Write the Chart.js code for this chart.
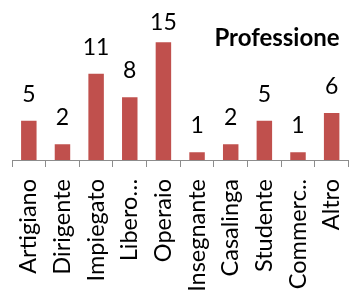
<!DOCTYPE html>
<html>
<head>
<meta charset="utf-8">
<script src="https://cdn.jsdelivr.net/npm/chart.js@4/dist/chart.umd.min.js"></script>
<style>
    html, body { margin: 0; padding: 0; background: #fff; overflow: hidden; }
    #wrap { width: 362px; height: 293px; overflow: hidden; }
</style>
</head>
<body>
<div id="wrap"><canvas id="professione" width="372" height="293"></canvas></div>
<script>
    "use strict";

    // Data
    var categories = ["Artigiano", "Dirigente", "Impiegato", "Libero…", "Operaio",
        "Insegnante", "Casalinga", "Studente", "Commerc..", "Altro"];
    var counts = [5, 2, 11, 8, 15, 1, 2, 5, 1, 6];
    var chartTitle = "Professione";

    var FONT = "Lato, 'DejaVu Sans', sans-serif";

    // Value labels above the bars
    var valueLabels = {
        id: "valueLabels",
        afterDatasetsDraw: function (chart) {
            var ctx = chart.ctx;
            var meta = chart.getDatasetMeta(0);
            ctx.save();
            ctx.font = "23px " + FONT;
            ctx.fillStyle = "#000";
            ctx.textAlign = "center";
            ctx.textBaseline = "alphabetic";
            meta.data.forEach(function (bar, i) {
                var y = Math.max(bar.y - 19, 30);
                ctx.fillText(String(counts[i]), bar.x, y);
            });
            ctx.restore();
        }
    };

    // Title drawn over the plot area
    var overlayTitle = {
        id: "overlayTitle",
        afterDraw: function (chart) {
            var ctx = chart.ctx;
            ctx.save();
            ctx.font = "bold 24px " + FONT;
            ctx.fillStyle = "#000";
            ctx.textAlign = "center";
            ctx.fillText(chartTitle, 277, 46);
            ctx.restore();
        }
    };

    var ctx1 = document.getElementById("professione").getContext("2d");
    var myChart1 = new Chart(ctx1, {
        type: "bar",
        data: {
            labels: categories,
            datasets: [{
                label: chartTitle,
                data: counts,
                backgroundColor: "#C0504D",
                borderWidth: 0,
                categoryPercentage: 1,
                barPercentage: 0.46
            }]
        },
        options: {
            responsive: false,
            animation: false,
            layout: { padding: { left: 12, right: 3, top: 3, bottom: 0 } },
            plugins: {
                legend: { display: false },
                title: { display: false },
                tooltip: { enabled: false }
            },
            scales: {
                y: {
                    display: false,
                    min: 0,
                    max: 20
                },
                x: {
                    grid: {
                        offset: true,
                        drawOnChartArea: false,
                        drawTicks: true,
                        tickLength: 7,
                        color: "#8c8c8c"
                    },
                    border: { color: "#8c8c8c", width: 1 },
                    ticks: {
                        autoSkip: false,
                        minRotation: 90,
                        maxRotation: 90,
                        padding: 12,
                        color: "#000",
                        font: { family: FONT, size: 23.5 }
                    },
                    afterFit: function (scale) {
                        scale.height = 133;
                    }
                }
            }
        },
        plugins: [valueLabels, overlayTitle]
    });
</script>
</body>
</html>
